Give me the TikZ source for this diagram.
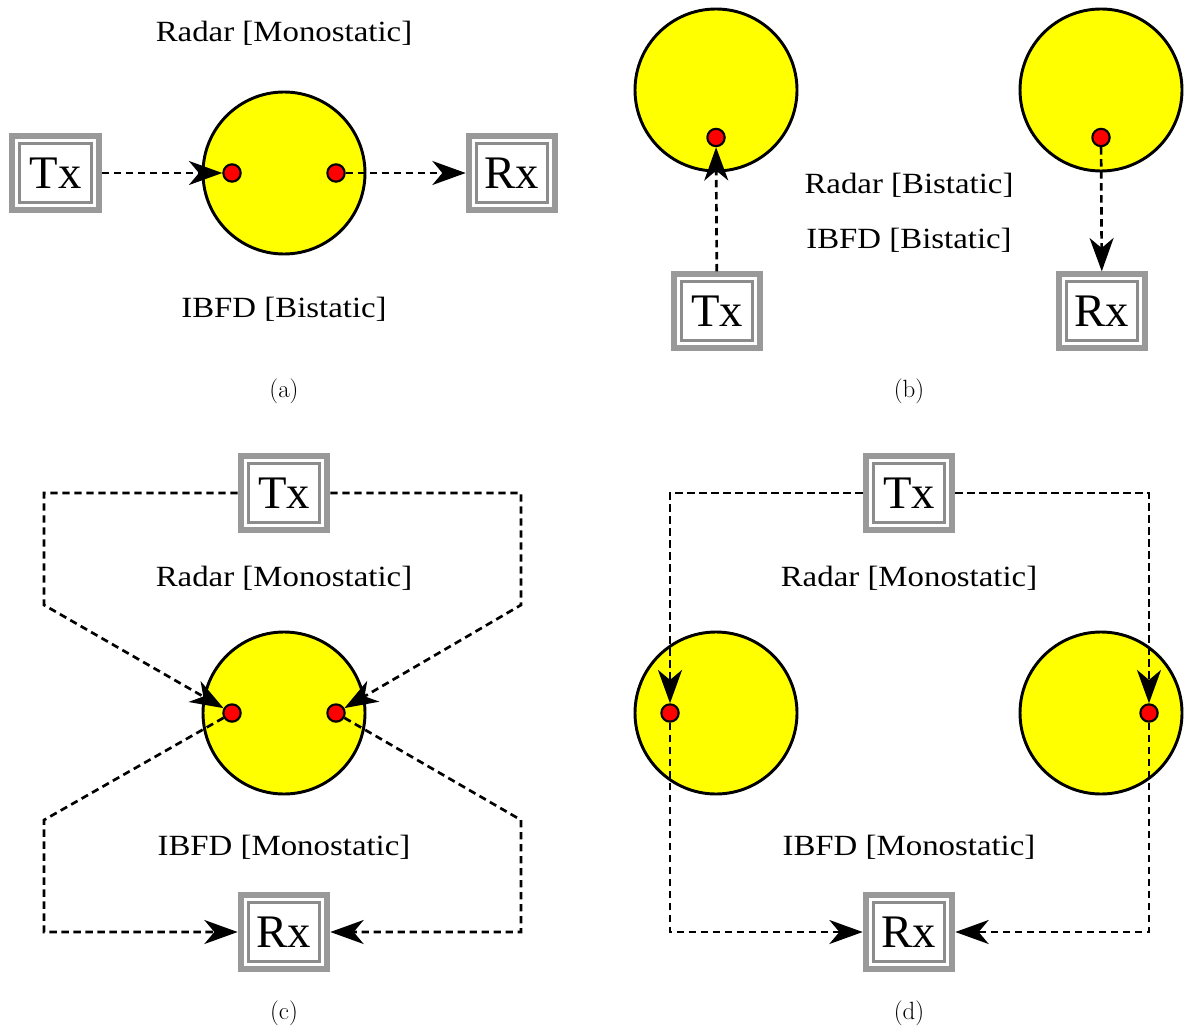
\documentclass[tikz,border=0pt]{standalone}
\usepackage{fontspec}
\usetikzlibrary{arrows.meta}
\newfontfamily\labfont[FakeStretch=1.12]{Liberation Serif}
\newfontfamily\boxfont{Liberation Serif}
\definecolor{puryellow}{RGB}{255,255,0}
\definecolor{purred}{RGB}{255,0,0}
\tikzset{
  txrx/.style={draw=black!40, line width=4.5pt, fill=white,
    minimum width=65pt, minimum height=55pt, inner sep=0pt,
    font=\boxfont\fontsize{35}{40}\selectfont,
    path picture={\draw[black!45, line width=2.25pt]
      ([shift={(5.6pt,5.6pt)}]path picture bounding box.south west) rectangle
      ([shift={(-5.6pt,-5.6pt)}]path picture bounding box.north east);}},
  bigc/.style={circle, draw, line width=2.2pt, fill=puryellow, minimum size=121.5pt, inner sep=0pt},
  reddot/.style={circle, draw, line width=1.6pt, fill=purred, minimum size=13pt, inner sep=0pt},
  sig/.style={line width=2pt, dash pattern=on 5.5pt off 3.5pt,
    -{Stealth[length=25pt,width=18pt,inset=7.5pt]}},
  lab/.style={font=\labfont\fontsize{22}{26}\selectfont, inner sep=0pt},
  subcap/.style={font=\fontsize{18.7}{22}\selectfont, inner sep=0pt}
}
\begin{document}
\begin{tikzpicture}[x=0.75pt,y=-0.75pt]
\useasboundingbox (0,0) rectangle (1187,1030);

% ---------- (a)
\node[lab] (ra) at (284,33) {Radar [Monostatic]};
\node[bigc] (ca) at (284,173) {};
\node[reddot] (da1) at (232,173) {};
\node[reddot] (da2) at (336,173) {};
\node[txrx] (txa) at (55.5,173) {Tx};
\node[txrx] (rxa) at (512,173) {Rx};
\node[lab] (ia) at (284,309) {IBFD [Bistatic]};
\node[subcap] (capa) at (284,391) {(a)};
\draw[sig] (txa) -- (da1);
\draw[sig] (da2) -- (rxa);

% ---------- (b)
\node[bigc] (cb1) at (716,90) {};
\node[bigc] (cb2) at (1101,90) {};
\node[reddot] (db1) at (716,137.5) {};
\node[reddot] (db2) at (1101,137.5) {};
\node[txrx] (txb) at (717,311) {Tx};
\node[txrx] (rxb) at (1102,311) {Rx};
\node[lab] (rb) at (909,185) {Radar [Bistatic]};
\node[lab] (ib) at (909,240) {IBFD [Bistatic]};
\node[subcap] (capb) at (909,391) {(b)};
\draw[sig] (txb) -- (db1);
\draw[sig] (db2) -- (rxb);

% ---------- (c)
\node[txrx] (txc) at (284,493) {Tx};
\node[txrx] (rxc) at (284,932) {Rx};
\node[lab] (rc) at (284,578) {Radar [Monostatic]};
\node[bigc] (cc) at (284,713) {};
\node[reddot] (dc1) at (232,713) {};
\node[reddot] (dc2) at (336,713) {};
\node[lab] (ic) at (284,847) {IBFD [Monostatic]};
\node[subcap] (capc) at (284,1013) {(c)};
\coordinate (cl1) at (44,493);
\coordinate (cl2) at (44,605);
\coordinate (cl3) at (44,820);
\coordinate (cl4) at (44,932);
\coordinate (cr1) at (521,493);
\coordinate (cr2) at (521,605);
\coordinate (cr3) at (521,820);
\coordinate (cr4) at (521,932);
\draw[sig] (txc.west) -- (cl1) -- (cl2) -- (dc1);
\draw[sig] (txc.east) -- (cr1) -- (cr2) -- (dc2);
\draw[sig] (dc1) -- (cl3) -- (cl4) -- (rxc.west);
\draw[sig] (dc2) -- (cr3) -- (cr4) -- (rxc.east);

% ---------- (d)
\node[txrx] (txd) at (909,493) {Tx};
\node[txrx] (rxd) at (909,932) {Rx};
\node[lab] (rd) at (909,578) {Radar [Monostatic]};
\node[bigc] (cd1) at (716,713) {};
\node[bigc] (cd2) at (1101,713) {};
\node[reddot] (dd1) at (670,713) {};
\node[reddot] (dd2) at (1149,713) {};
\node[lab] (id) at (909,847) {IBFD [Monostatic]};
\node[subcap] (capd) at (909,1013) {(d)};
\draw[sig] (txd.west) -- (dd1 |- txd.west) -- (dd1);
\draw[sig] (txd.east) -- (dd2 |- txd.east) -- (dd2);
\draw[sig] (dd1) -- (dd1 |- rxd.west) -- (rxd.west);
\draw[sig] (dd2) -- (dd2 |- rxd.east) -- (rxd.east);
\end{tikzpicture}
\end{document}
